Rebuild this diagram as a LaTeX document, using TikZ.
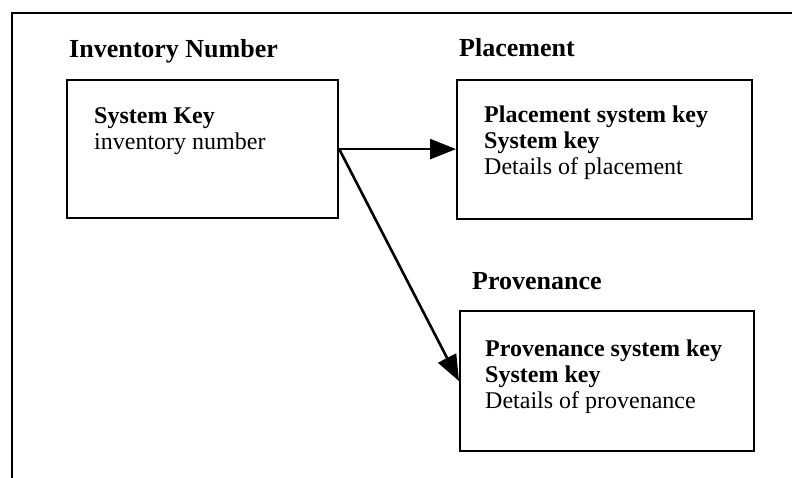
\documentclass[tikz,border=0pt]{standalone}
\usepackage{fontspec}
\setmainfont{Liberation Serif}
\usetikzlibrary{arrows.meta}

\newcommand{\headfont}{\fontsize{26bp}{30bp}\selectfont\bfseries}
\newcommand{\bodyfont}{\fontsize{24bp}{26bp}\selectfont}

\tikzset{
  frame/.style={line width=2bp},
  box/.style={draw, line width=2.2bp, anchor=north west, inner sep=0pt},
  title/.style={font=\headfont, anchor=base west, inner sep=0pt},
  body/.style={font=\bodyfont, anchor=base west, align=left, inner sep=0pt},
  link/.style={line width=2.6bp, -{Triangle[length=26bp,width=20bp]}}
}

\begin{document}
\begin{tikzpicture}[x=1bp, y=-1bp]
    \useasboundingbox (0,0) rectangle (792,478);
    % outer frame (only top and left edges show)
    \draw[frame] (792,13) -- (12,13) -- (12,478);

    % headings
    \node[title] (invtitle) at (69,58) {Inventory Number};
    \node[title] (placetitle) at (459,57) {Placement};
    \node[title] (provtitle) at (472,290) {Provenance};

    % tables
    \node[box, minimum width=271bp, minimum height=138bp] (inv) at (66,79) {};
    \node[box, minimum width=295bp, minimum height=139bp] (place) at (456,79) {};
    \node[box, minimum width=294bp, minimum height=140bp] (prov) at (459,310) {};

    % table contents (base = last line)
    \node[body] (invtxt) at (94,150) {\textbf{System Key}\\inventory number};
    \node[body] (placetxt) at (484,175) {\textbf{Placement system key}\\\textbf{System key}\\Details of placement};
    \node[body] (provtxt) at (485,408) {\textbf{Provenance system key}\\\textbf{System key}\\Details of provenance};

    % links
    \draw[link] (inv.east) -- (inv.east -| place.west);
    \draw[link] (inv.east) -- (prov.west);
\end{tikzpicture}
\end{document}
